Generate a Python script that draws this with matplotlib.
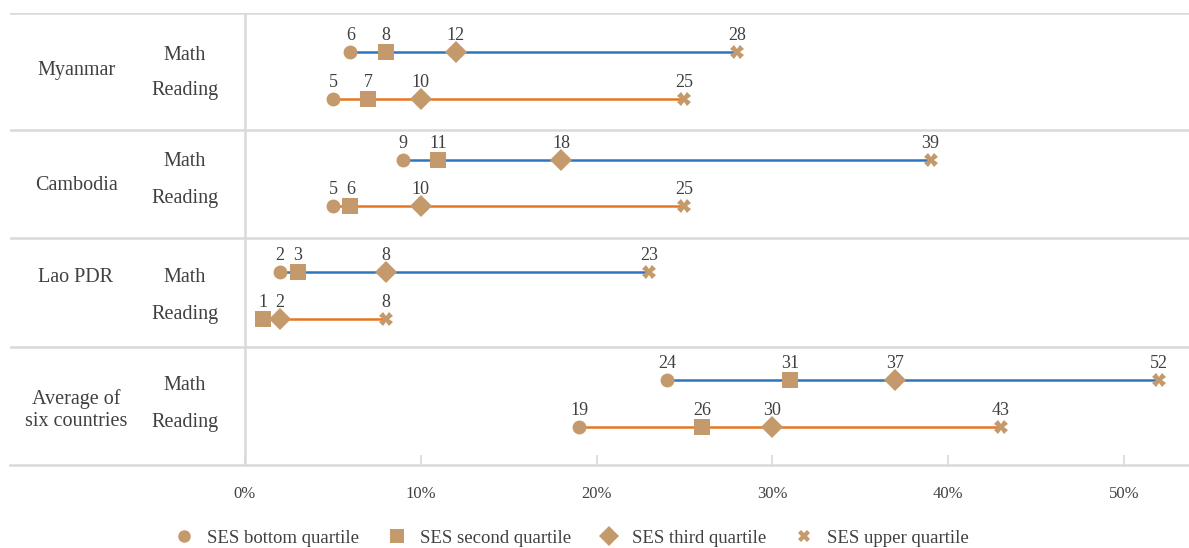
import matplotlib
matplotlib.use("Agg")
import matplotlib.pyplot as plt
from matplotlib.lines import Line2D

countries = ["Myanmar", "Cambodia", "Lao PDR", "Average of\nsix countries"]
subjects = ["Math", "Reading"]
quartiles = ["SES bottom quartile", "SES second quartile", "SES third quartile", "SES upper quartile"]

bottom_q = [[6, 5], [9, 5], [2, 1], [24, 19]]
second_q = [[8, 7], [11, 6], [3, 1], [31, 26]]
third_q = [[12, 10], [18, 10], [8, 2], [37, 30]]
upper_q = [[28, 25], [39, 25], [23, 8], [52, 43]]

x_ticks = [0, 10, 20, 30, 40, 50]
x_tick_labels = ["0%", "10%", "20%", "30%", "40%", "50%"]

# layout (vertical positions in pixel-like units, top = 13, bottom = 465)
row_y = [[52, 99], [160, 206], [272, 319], [380, 427]]
sub_label_y = [[55, 90], [161, 199], [277, 314], [385, 423]]
group_label_y = [70, 185, 277, 410]
separators = [13, 130, 238, 347]

TAN = "#C4996B"
LINE_COLORS = ["#2E75C0", "#E8761F"]
GRID = "#D9D9D9"
TXT = "#404040"
FONT = ["Liberation Serif", "DejaVu Serif"]
plt.rcParams["font.family"] = FONT

W, H = 1189, 548
fig = plt.figure(figsize=(W / 100, H / 100), dpi=100)
ax = fig.add_axes([10 / W, (H - 465) / H, 1 - 10 / W, (465 - 13) / H])

px_per = (1124 - 245) / 50.0
ax.set_xlim(-(245 - 10) / px_per, (W - 245) / px_per)
ax.set_ylim(465, 13)

markers = ["o", "s", "D", "X"]
msizes = [10, 11, 11.5, 10]
series = [bottom_q, second_q, third_q, upper_q]

for i, c in enumerate(countries):
    ax.text((76 - 245) / px_per, group_label_y[i], c, ha="center", va="center",
            fontsize=14.5, color=TXT, linespacing=1.15)
    for j, s in enumerate(subjects):
        y = row_y[i][j]
        ax.text((185 - 245) / px_per, sub_label_y[i][j], s, ha="center",
                va="center", fontsize=14.5, color=TXT)
        vals = [ser[i][j] for ser in series]
        ax.plot([min(vals), max(vals)], [y, y], color=LINE_COLORS[j], lw=1.8, zorder=2)
        for k, v in enumerate(vals):
            ax.plot([v], [y], marker=markers[k], ms=msizes[k], color=TAN,
                    markeredgewidth=0, linestyle="none", zorder=3)
        drawn = set()
        for k, v in enumerate(vals):
            if v in drawn:
                continue
            drawn.add(v)
            ax.annotate(str(v), (v, y), xytext=(0, 8.5), textcoords="offset points",
                        ha="center", va="baseline", fontsize=13, color=TXT)

for yb in separators:
    ax.axhline(yb, color=GRID, lw=1.8, zorder=1)
ax.axvline(0, color=GRID, lw=1.8, zorder=1)

for sp in ["top", "right", "left"]:
    ax.spines[sp].set_visible(False)
ax.spines["bottom"].set_color(GRID)
ax.spines["bottom"].set_linewidth(1.8)

ax.set_xticks(x_ticks)
ax.set_xticklabels(x_tick_labels, fontsize=12, color=TXT)
ax.tick_params(axis="x", direction="in", length=7, width=1.2, color=GRID, pad=15)
ax.set_yticks([])

handles = [Line2D([], [], marker=markers[k], ms=msizes[k] - 1, color=TAN,
                  markeredgewidth=0, linestyle="none") for k in range(4)]
fig.legend(handles, quartiles, loc="center", bbox_to_anchor=(567 / W, 1 - 538 / H),
           ncol=4, frameon=False, fontsize=13.5, handletextpad=0.25,
           columnspacing=1.0, labelcolor=TXT)

fig.savefig("out.png", dpi=100)
